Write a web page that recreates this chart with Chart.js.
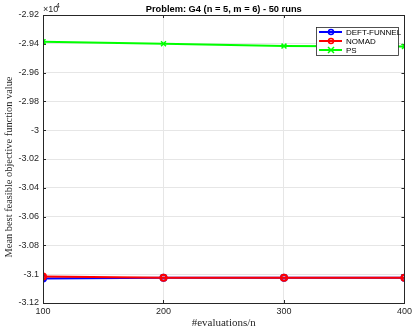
<!DOCTYPE html>
<html><head><meta charset="utf-8">
<script src="https://cdn.jsdelivr.net/npm/chart.js@4.4.1/dist/chart.umd.min.js"></script>
<style>html,body{margin:0;padding:0;background:#fff}#wrap{width:415px;height:335px}</style>
</head><body><div id="wrap"><canvas id="c" width="415" height="335"></canvas></div>
<script>
const evaluations = [100, 200, 300, 400];
const deftFunnel = [-31030, -31025, -31025, -31025];
const nomad = [-31016, -31024, -31024, -31024];
const ps = [-29385, -29400, -29416, -29418];
const yTicks = [-31200, -31000, -30800, -30600, -30400, -30200, -30000, -29800, -29600, -29400, -29200];
const titleText = 'Problem: G4 (n = 5, m = 6) - 50 runs';
const xTitle = '#evaluations/n';
const yTitle = 'Mean best feasible objective function value';

const fmt = v => { let s = (v/1e4).toFixed(2); s = s.replace(/0+$/,'').replace(/\.$/,''); return s; };

const deco = {
  id: 'deco',
  beforeDatasetsDraw(chart) {
    const {ctx, chartArea: a, scales} = chart;
    ctx.save();
    ctx.strokeStyle = '#262626'; ctx.lineWidth = 1;
    ctx.beginPath();
    yTicks.forEach(t => { const y = Math.round(scales.y.getPixelForValue(t)) + 0.5;
      ctx.moveTo(a.left, y); ctx.lineTo(a.left + 3, y); ctx.moveTo(a.right, y); ctx.lineTo(a.right - 3, y); });
    evaluations.forEach(t => { const x = Math.round(scales.x.getPixelForValue(t)) + 0.5;
      ctx.moveTo(x, a.bottom); ctx.lineTo(x, a.bottom - 3); ctx.moveTo(x, a.top); ctx.lineTo(x, a.top + 3); });
    ctx.stroke();
    ctx.restore();
  },
  afterDraw(chart) {
    const {ctx, chartArea: a} = chart;
    ctx.save();
    ctx.strokeStyle = '#262626'; ctx.lineWidth = 1;
    ctx.strokeRect(Math.round(a.left) + 0.5, Math.round(a.top) + 0.5, Math.round(a.right - a.left), Math.round(a.bottom - a.top));
    ctx.fillStyle = '#000';
    ctx.font = 'bold 9.3px "Liberation Sans", Arial, sans-serif';
    ctx.textAlign = 'center'; ctx.textBaseline = 'middle';
    ctx.fillText(titleText, (a.left + a.right) / 2, 9);
    ctx.fillStyle = '#262626';
    ctx.textAlign = 'left'; ctx.textBaseline = 'alphabetic';
    ctx.font = '9px "Liberation Sans", Arial, sans-serif';
    ctx.fillText('\u00d710', a.left, a.top - 3);
    ctx.font = '7px "Liberation Sans", Arial, sans-serif';
    ctx.fillText('4', a.left + 13, a.top - 7);
    ctx.fillStyle = '#262626';
    ctx.font = '11px "Liberation Serif", "DejaVu Serif", serif';
    ctx.textAlign = 'center'; ctx.textBaseline = 'middle';
    ctx.fillText(xTitle, (a.left + a.right) / 2, 323);
    ctx.save();
    ctx.font = '10.4px "Liberation Serif", "DejaVu Serif", serif';
    ctx.translate(9, 167);
    ctx.rotate(-Math.PI / 2);
    ctx.fillText(yTitle, 0, 0);
    ctx.restore();
    const lx = 316, ly = 27, lw = 82, lh = 28;
    ctx.fillStyle = '#fff';
    ctx.fillRect(lx, ly, lw, lh);
    ctx.strokeStyle = '#262626'; ctx.lineWidth = 0.8;
    ctx.strokeRect(lx + 0.5, ly + 0.5, lw, lh);
    chart.data.datasets.forEach((ds, i) => {
      const y = ly + 5 + i * 9;
      ctx.strokeStyle = ds.borderColor; ctx.lineWidth = 2;
      ctx.beginPath(); ctx.moveTo(lx + 3, y); ctx.lineTo(lx + 26, y); ctx.stroke();
      const cx = lx + 15;
      ctx.lineWidth = 1.5;
      if (ds.pointStyle === 'crossRot') {
        ctx.beginPath(); ctx.moveTo(cx - 3, y - 3); ctx.lineTo(cx + 3, y + 3); ctx.moveTo(cx - 3, y + 3); ctx.lineTo(cx + 3, y - 3); ctx.stroke();
      } else {
        ctx.beginPath(); ctx.arc(cx, y, 2.5, 0, Math.PI * 2); ctx.stroke();
      }
      ctx.fillStyle = '#000';
      ctx.font = '8px "Liberation Sans", Arial, sans-serif';
      ctx.textAlign = 'left'; ctx.textBaseline = 'middle';
      ctx.fillText(ds.label, lx + 30, y + 0.5);
    });
    ctx.restore();
  }
};

new Chart(document.getElementById('c'), {
  type: 'line',
  data: {
    labels: evaluations,
    datasets: [
      { label: 'DEFT-FUNNEL', order: 3, data: evaluations.map((x, i) => ({x, y: deftFunnel[i]})), borderColor: '#0000ff', backgroundColor: 'rgba(0,0,0,0)', borderWidth: 2, pointStyle: 'circle', pointRadius: 3, pointBorderWidth: 2 },
      { label: 'NOMAD', order: 2, data: evaluations.map((x, i) => ({x, y: nomad[i]})), borderColor: '#ff0000', backgroundColor: 'rgba(0,0,0,0)', borderWidth: 2, pointStyle: 'circle', pointRadius: 3, pointBorderWidth: 2 },
      { label: 'PS', order: 1, data: evaluations.map((x, i) => ({x, y: ps[i]})), borderColor: '#00ff00', backgroundColor: '#00ff00', borderWidth: 2, pointStyle: 'crossRot', pointRadius: 3.5, pointBorderWidth: 1.5 }
    ]
  },
  options: {
    responsive: false, animation: false, devicePixelRatio: 1,
    layout: { padding: { left: 0, right: 6, top: 15, bottom: 0 } },
    plugins: { legend: { display: false }, title: { display: false }, tooltip: { enabled: false } },
    elements: { line: { tension: 0 } },
    scales: {
      x: {
        type: 'linear', min: 100, max: 400,
        afterBuildTicks: s => { s.ticks = evaluations.map(v => ({value: v})); },
        afterFit: s => { s.height = 32; },
        grid: { color: '#e6e6e6', drawTicks: false, lineWidth: 1 },
        border: { display: false },
        ticks: { padding: 3, color: '#262626', font: { size: 9, family: '"Liberation Sans", Arial, sans-serif' }, maxRotation: 0, callback: v => String(v) }
      },
      y: {
        min: -31200, max: -29200,
        afterBuildTicks: s => { s.ticks = yTicks.map(v => ({value: v})); },
        afterFit: s => { s.width = 43; },
        grid: { color: '#e6e6e6', drawTicks: false, lineWidth: 1 },
        border: { display: false },
        ticks: { padding: 4, color: '#262626', font: { size: 9, family: '"Liberation Sans", Arial, sans-serif' }, callback: v => fmt(v) }
      }
    }
  },
  plugins: [deco]
});
</script></body></html>
